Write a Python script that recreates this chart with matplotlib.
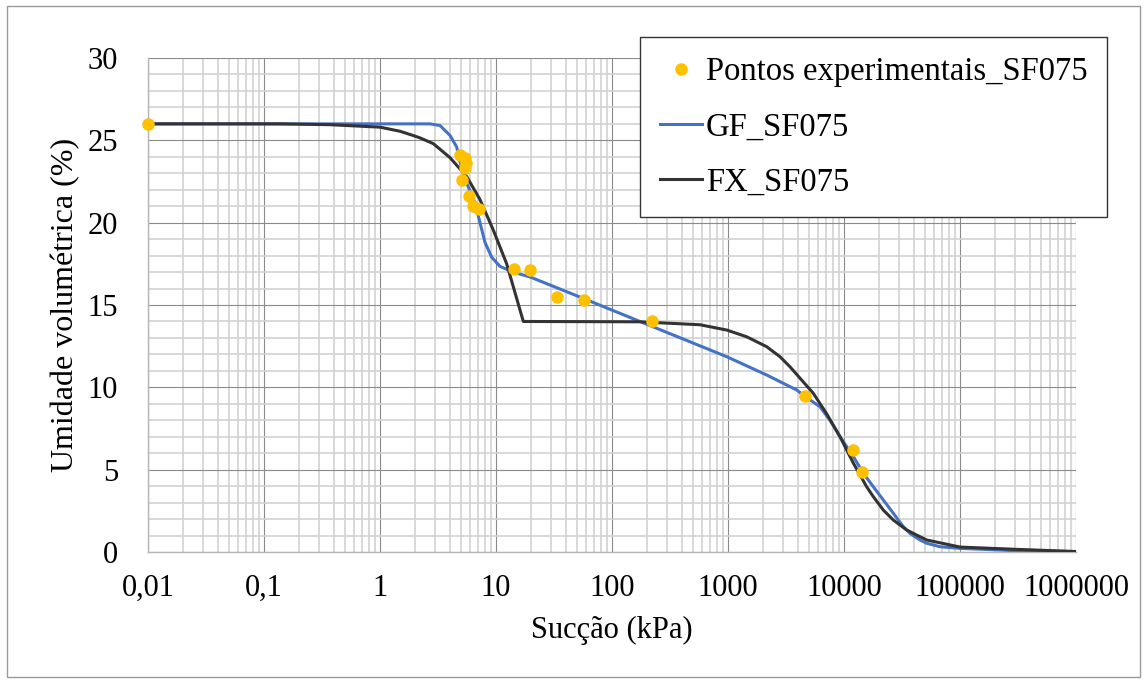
import matplotlib
matplotlib.use("Agg")
import matplotlib.pyplot as plt
from matplotlib.ticker import FixedLocator, NullFormatter, MultipleLocator
from matplotlib.patches import Rectangle

# Experimental points: suction (kPa) and volumetric water content (%)
suc_pontos = [0.01, 4.9, 5.4, 5.5, 5.4, 5.1, 5.9, 6.3, 7.1,
              14.3, 19.6, 33.7, 57.7, 220, 4650, 11900, 14200]
um_pontos = [26.0, 24.1, 23.9, 23.6, 23.3, 22.6, 21.6, 21.0, 20.8,
             17.2, 17.1, 15.5, 15.3, 14.0, 9.45, 6.2, 4.85]

# GF_SF075 fitted curve
suc_gf = [0.01, 1, 2.7, 3.29, 3.63, 4.01, 4.58, 4.89, 5.59, 6.59, 7.28, 8.04,
          9.18, 10.8, 14.0, 19.7, 56.6, 174, 975, 2153, 3908, 4613, 6211,
          7568, 9243, 12030, 14690, 17900, 21810, 26620, 32430, 37050, 45200,
          51640, 67250, 100000, 308000, 1000000]
um_gf = [26.0, 26.0, 26.0, 25.9, 25.6, 25.3, 24.6, 23.7, 22.4, 21.2, 20.0, 18.8,
         17.9, 17.35, 17.0, 16.7, 15.4, 14.0, 11.86, 10.75, 9.84, 9.45, 8.82,
         8.0, 7.0, 5.8, 4.78, 3.96, 3.16, 2.35, 1.54, 1.13, 0.73,
         0.53, 0.32, 0.22, 0.08, 0.02]

# FX_SF075 fitted curve
suc_fx = [0.01, 0.137, 0.37, 1, 1.49, 1.92, 2.21, 2.88, 4.01, 5.59, 7.28, 9.48,
          12.36, 17.2, 174, 574, 975, 1449, 2153, 2805, 3420, 5433, 7080, 9243,
          12030, 15680, 17900, 21810, 26620, 34680, 42270, 51640, 100000,
          308000, 1000000]
um_fx = [26.0, 26.0, 25.95, 25.8, 25.55, 25.3, 25.15, 24.8, 23.95, 22.8, 21.4, 19.55,
         17.5, 14.0, 13.98, 13.8, 13.48, 13.07, 12.47, 11.86, 11.25, 9.64, 8.4, 7.0,
         5.4, 3.96, 3.36, 2.55, 1.94, 1.34, 1.03, 0.73, 0.3,
         0.16, 0.03]

x_ticks = [0.01, 0.1, 1, 10, 100, 1000, 10000, 100000, 1000000]
x_tick_labels = ["0,01", "0,1", "1", "10", "100", "1000", "10000", "100000", "1000000"]
y_ticks = [0, 5, 10, 15, 20, 25, 30]

plt.rcParams['font.family'] = ['Liberation Serif', 'DejaVu Serif']

W, H = 1145, 682
fig = plt.figure(figsize=(W / 100, H / 100), dpi=100)
fig.patches.append(Rectangle((7 / W, 5 / H), (1140 - 7) / W, (677 - 6) / H,
                             transform=fig.transFigure, fill=False,
                             edgecolor='#9a9a9a', linewidth=1.0))

ax = fig.add_axes([148 / W, 1 - 552 / H, (1076 - 148) / W, (552 - 58) / H])
ax.set_xscale('log')
ax.set_xlim(0.01, 1000000)
ax.set_ylim(0, 30)

# grid
minor_x = [m * 10.0 ** e for e in range(-2, 6) for m in range(2, 10)]
ax.xaxis.set_major_locator(FixedLocator(x_ticks))
ax.xaxis.set_minor_locator(FixedLocator(minor_x))
ax.xaxis.set_minor_formatter(NullFormatter())
ax.set_xticklabels(x_tick_labels)
ax.yaxis.set_major_locator(FixedLocator(y_ticks))
ax.yaxis.set_minor_locator(MultipleLocator(1))
ax.grid(which='minor', color='#d2d2d2', linewidth=1.2, zorder=0)
ax.grid(which='major', color='#8a8a8a', linewidth=0.8, zorder=0)
ax.set_axisbelow(True)

ax.tick_params(which='both', length=0)
ax.tick_params(axis='x', labelsize=22, pad=16)
ax.tick_params(axis='y', labelsize=22, pad=21.5)

for side in ('top', 'right'):
    ax.spines[side].set_visible(False)
for side in ('left', 'bottom'):
    ax.spines[side].set_color('#b5b5b5')
    ax.spines[side].set_linewidth(1.0)

ax.plot(suc_gf, um_gf, color='#4472C4', linewidth=2.2, label='GF_SF075', zorder=3)
ax.plot(suc_fx, um_fx, color='#333333', linewidth=2.2, label='FX_SF075', zorder=4)
ax.plot(suc_pontos, um_pontos, linestyle='none', marker='o', markersize=9,
        color='#FFC000', markeredgewidth=0, label='Pontos experimentais_SF075',
        zorder=5, clip_on=False)

ax.set_xlabel('Sucção (kPa)', fontsize=22, labelpad=9)
ax.set_ylabel('Umidade volumétrica (%)', fontsize=23, labelpad=5)

handles, labels = ax.get_legend_handles_labels()
order = [2, 0, 1]
leg = fig.legend([handles[i] for i in order], [labels[i] for i in order],
                 loc='upper left', bbox_to_anchor=(640 / W, 1 - 37 / H),
                 fontsize=23.5, frameon=True, fancybox=False, framealpha=1,
                 edgecolor='#333333', handlelength=1.3, handletextpad=0.12,
                 borderpad=0.6, labelspacing=0.76, borderaxespad=0)
leg.get_frame().set_linewidth(1.0)

fig.savefig('out.png', dpi=100)
